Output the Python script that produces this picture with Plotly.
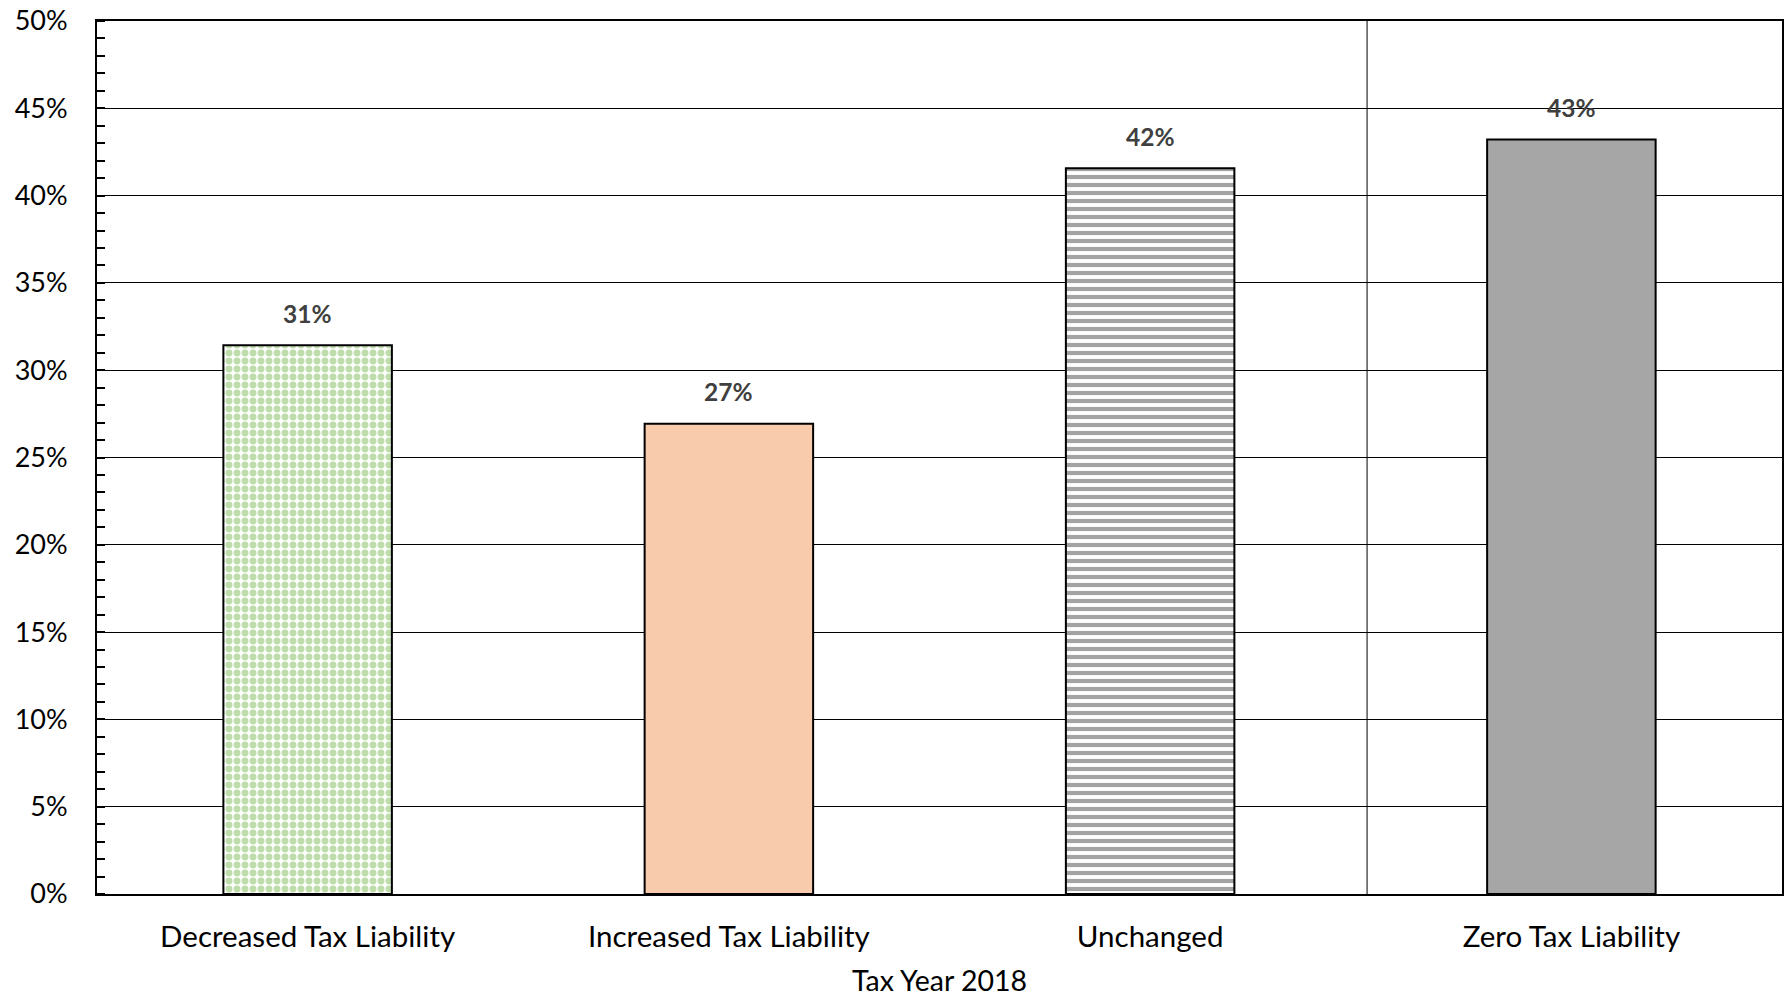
import plotly.graph_objects as go

categories = ["Decreased Tax Liability", "Increased Tax Liability", "Unchanged", "Zero Tax Liability"]
values = [31.43, 26.93, 41.56, 43.22]
fill_colors = ["#BFDDAA", "#F8CBAD", "#A3A3A3", "#A6A6A6"]
pattern_shapes = [".", "", "-", ""]
y_tick_vals = [0, 5, 10, 15, 20, 25, 30, 35, 40, 45, 50]
y_tick_text = [f"{v}%" for v in y_tick_vals]
x_title = "Tax Year 2018"

FONT = "Lato, 'Open Sans', sans-serif"

fig = go.Figure()
for cat, val, col, shp in zip(categories, values, fill_colors, pattern_shapes):
    if shp:
        marker = dict(
            color="white",
            line=dict(color="black", width=2),
            pattern=dict(shape=shp, fgcolor=col, bgcolor="white", fgopacity=1, size=8,
                         solidity=0.58 if shp == "." else 0.52, fillmode="overlay"),
        )
    else:
        marker = dict(color=col, line=dict(color="black", width=2))
    fig.add_trace(go.Bar(x=[cat], y=[val], marker=marker, width=0.4, hoverinfo="skip"))

for c, v in zip(categories, values):
    fig.add_annotation(
        x=c, y=v, text=f"<b>{round(v)}%</b>", showarrow=False,
        yshift=32, font=dict(family=FONT, size=24.5, color="#404040"),
    )

fig.add_shape(type="line", xref="x", yref="paper", x0=2.515, x1=2.515, y0=0, y1=1,
              line=dict(color="black", width=1), layer="below")

fig.update_layout(
    width=1787, height=997,
    margin=dict(l=97, r=3, t=19, b=103),
    paper_bgcolor="white", plot_bgcolor="white",
    showlegend=False,
    barmode="overlay",
    font=dict(family=FONT, color="black"),
    xaxis=dict(
        categoryorder="array", categoryarray=categories,
        showline=True, linecolor="black", linewidth=2, mirror=True,
        ticks="", showgrid=False,
        tickfont=dict(family=FONT, size=29.5, color="black"),
        ticklabelstandoff=16,
        title=dict(text=x_title, font=dict(family=FONT, size=28.5, color="black"), standoff=21),
    ),
    yaxis=dict(
        range=[0, 50],
        tickvals=y_tick_vals, ticktext=y_tick_text,
        showline=True, linecolor="black", linewidth=2, mirror=True,
        showgrid=True, gridcolor="black", gridwidth=1.3,
        ticks="",
        tickfont=dict(family=FONT, size=27, color="black"),
        ticklabelstandoff=22,
        minor=dict(dtick=1, ticks="inside", ticklen=8, tickwidth=1.5, tickcolor="black", showgrid=False),
        zeroline=False,
    ),
)

fig.write_html("out.html")
